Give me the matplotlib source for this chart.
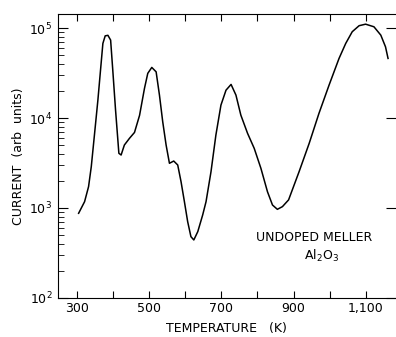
import matplotlib.pyplot as plt
from matplotlib.ticker import FixedLocator, LogLocator, NullFormatter

# Temperatura (K) y corriente (unidades arbitrarias)
temperatura = [305.5, 322, 333, 340.5, 349.7, 358.8, 366, 372.6, 379, 386.5,
               394, 400, 407.6, 414, 416.8, 423, 432, 446, 460, 474, 487.6,
               496.7, 507.8, 519.8, 529, 538, 547.4, 556.6, 568.5, 579.5,
               588.7, 598, 607, 616, 624, 635, 648.5, 657.8, 671.5, 685, 699,
               713, 727, 740.5, 754, 772.6, 791, 809.5, 827.7, 841.5, 855,
               869, 886, 915, 943, 970, 998, 1025.5, 1044, 1062, 1081, 1099,
               1122, 1141, 1154, 1161]
corriente = [873, 1175, 1726, 2877, 6761, 15849, 33884, 67608, 82035, 83176,
             73621, 33884, 12303, 5702, 4055, 3882, 5012, 5943, 6918, 10715,
             21380, 31405, 36559, 32659, 17989, 9120, 5012, 3141, 3327, 3006,
             1959, 1175, 705, 480, 441, 546, 836, 1175, 2529, 6457, 13932,
             20417, 23659, 17989, 10789, 6761, 4603, 2761, 1514, 1079, 966,
             1035, 1230, 2529, 5236, 11272, 23281, 46026, 67608, 91201,
             106414, 110662, 103514, 83560, 61944, 46026]

ticks_x = [300, 400, 500, 600, 700, 800, 900, 1000, 1100]
etiquetas_x = ["300", "", "500", "", "700", "", "900", "", "1,100"]

fig = plt.figure(figsize=(3.96, 3.37), dpi=100)
ax = fig.add_axes([0.146, 0.116, 0.854, 0.842])

ax.plot(temperatura, corriente, color="black", linewidth=1.1,
        solid_joinstyle="round")

ax.set_yscale("log")
ax.set_xlim(248, 1183)
ax.set_ylim(100, 1.43e5)

ax.xaxis.set_major_locator(FixedLocator(ticks_x))
ax.set_xticklabels(etiquetas_x, fontsize=9)
ax.yaxis.set_minor_locator(LogLocator(base=10, subs=range(2, 10), numticks=10))
ax.yaxis.set_minor_formatter(NullFormatter())
ax.set_yticks([1e2, 1e3, 1e4, 1e5])
ax.set_yticklabels(["$10^2$", "$10^3$", "$10^4$", "$10^5$"], fontsize=9)

ax.spines["right"].set_visible(False)
ax.tick_params(axis="x", which="major", direction="in", length=5, top=True, pad=3)
ax.tick_params(axis="y", which="major", direction="in", length=7, right=True, pad=4)
ax.tick_params(axis="y", which="minor", direction="in", length=4.5, right=False)

ax.set_xlabel("TEMPERATURE   (K)", fontsize=9, labelpad=5)
ax.set_ylabel("CURRENT  (arb  units)", fontsize=9, labelpad=3)

ax.text(956, 464, "UNDOPED MELLER", fontsize=9, ha="center", va="center")
ax.text(976, 293, "Al$_2$O$_3$", fontsize=9, ha="center", va="center")

fig.savefig("out.png", dpi=100)
